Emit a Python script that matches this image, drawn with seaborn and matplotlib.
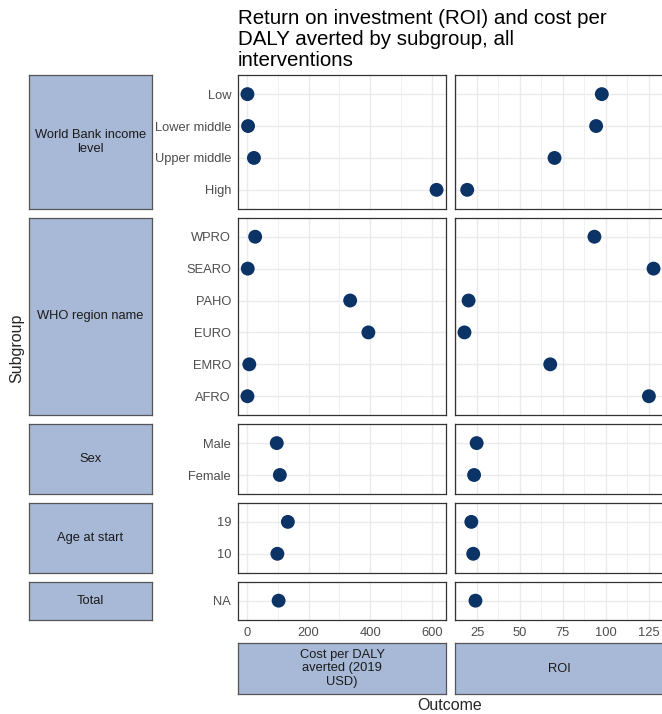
import numpy as np
import pandas as pd
import seaborn as sns
import matplotlib.pyplot as plt
from matplotlib.ticker import MultipleLocator

# facet rows (top to bottom) and their categories, listed top to bottom
row_labels = ['World Bank income\nlevel', 'WHO region name', 'Sex', 'Age at start', 'Total']
row_cats = [
    ['Low', 'Lower middle', 'Upper middle', 'High'],
    ['WPRO', 'SEARO', 'PAHO', 'EURO', 'EMRO', 'AFRO'],
    ['Male', 'Female'],
    ['19', '10'],
    ['NA'],
]

# values, same order as row_cats
cost_per_daly = [
    [2, 4, 23, 615],
    [27, 3, 335, 394, 8, 2],
    [97, 107],
    [133, 99],
    [103],
]
roi = [
    [97.6, 94.3, 70.1, 19.3],
    [93.3, 127.7, 20.1, 17.7, 67.6, 125.0],
    [24.8, 23.3],
    [21.7, 22.8],
    [24.1],
]

col_labels = ['Cost per DALY\naverted (2019\nUSD)', 'ROI']
col_values = [cost_per_daly, roi]
col_major = [200, 25]
col_minor = [100, 12.5]

point_col = '#0B3366'
strip_fill = '#A8B9D7'
frame_col = '#333333'
grid_col = '#EBEBEB'

sns.set_style('white')
plt.rcParams['font.family'] = ['Liberation Sans', 'DejaVu Sans']

W, H = 662, 714
fig = plt.figure(figsize=(W / 100, H / 100), dpi=100)


def px_axes(x0, y0, x1, y1):
    # pixel box (top-left origin) -> figure axes
    return fig.add_axes([x0 / W, 1 - y1 / H, (x1 - x0) / W, (y1 - y0) / H])


# layout in pixels
unit = 31.9
gap = 8.6
top = 75
col_x = [(238, 446), (455, 663)]
strip_x = (29, 152)

# x range per column (data span + 5 %)
col_lims = []
for vals in col_values:
    flat = [v for r in vals for v in r]
    lo, hi = min(flat), max(flat)
    pad = (hi - lo) * 0.05
    col_lims.append((lo - pad, hi + pad))

y = top
for r, cats in enumerate(row_cats):
    n = len(cats)
    h = (n + 0.2) * unit
    y0, y1 = y, y + h
    # left strip
    sax = px_axes(strip_x[0], y0, strip_x[1], y1)
    sax.set_facecolor(strip_fill)
    sax.set_xticks([])
    sax.set_yticks([])
    for s in sax.spines.values():
        s.set_color('#555555')
        s.set_linewidth(0.9)
    sax.text(0.5, 0.5, row_labels[r], ha='center', va='center', fontsize=9.3,
             color='#1A1A1A', transform=sax.transAxes, linespacing=1.3)

    for c, (cx0, cx1) in enumerate(col_x):
        ax = px_axes(cx0, y0, cx1, y1)
        df = pd.DataFrame({'cat': cats, 'val': col_values[c][r],
                           'pos': list(range(n - 1, -1, -1))})
        sns.scatterplot(data=df, x='val', y='pos', ax=ax, color=point_col,
                        s=100, edgecolor='none', zorder=3, clip_on=False)
        ax.set_xlim(*col_lims[c])
        ax.set_ylim(-0.6, n - 0.4)
        ax.xaxis.set_major_locator(MultipleLocator(col_major[c]))
        ax.xaxis.set_minor_locator(MultipleLocator(col_minor[c]))
        ax.set_yticks(df['pos'])
        ax.set_yticklabels(cats)
        ax.grid(True, which='major', color=grid_col, lw=1.0, zorder=0)
        ax.grid(True, which='minor', axis='x', color=grid_col, lw=0.5, zorder=0)
        ax.set_axisbelow(True)
        ax.set_xlabel('')
        ax.set_ylabel('')
        for s in ax.spines.values():
            s.set_color(frame_col)
            s.set_linewidth(0.9)
        ax.tick_params(axis='both', which='major', length=3, width=0.8,
                       color=frame_col, labelcolor='#4D4D4D', labelsize=9.3, pad=2)
        ax.tick_params(axis='x', which='minor', length=0)
        if c > 0:
            ax.tick_params(axis='y', left=False, labelleft=False)
        if r < len(row_cats) - 1:
            ax.tick_params(axis='x', bottom=False, labelbottom=False)
    y = y1 + gap

# bottom strips
for c, (cx0, cx1) in enumerate(col_x):
    bax = px_axes(cx0, 643, cx1, 694)
    bax.set_facecolor(strip_fill)
    bax.set_xticks([])
    bax.set_yticks([])
    for s in bax.spines.values():
        s.set_color('#555555')
        s.set_linewidth(0.9)
    bax.text(0.5, 0.5, col_labels[c], ha='center', va='center', fontsize=9.3,
             color='#1A1A1A', transform=bax.transAxes, linespacing=1.2)

fig.text(238 / W, 1 - 9 / H,
         'Return on investment (ROI) and cost per\nDALY averted by subgroup, all\ninterventions',
         ha='left', va='top', fontsize=14.8, color='black', linespacing=1.12)
fig.text(450 / W, 1 - 705 / H, 'Outcome', ha='center', va='center', fontsize=11.5)
fig.text(17 / W, 1 - 348 / H, 'Subgroup', ha='center', va='center', fontsize=11.5,
         rotation=90)

fig.savefig('out.png', dpi=100)
